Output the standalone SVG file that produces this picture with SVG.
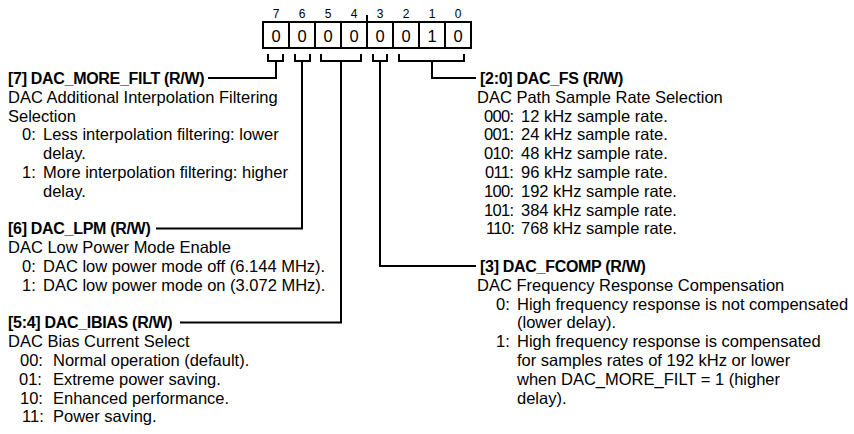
<svg xmlns="http://www.w3.org/2000/svg" width="854" height="434" viewBox="0 0 854 434">
<style>
text{font-family:"Liberation Sans",Arial,sans-serif;fill:#000}
.t{font-size:16.5px}
.c{letter-spacing:-0.7px}
.h{font-size:16px;font-weight:bold;letter-spacing:-0.3px}
.bn{font-size:12px;text-anchor:middle}
.dg{font-size:16.5px;text-anchor:middle}
.ln{fill:none;stroke:#000;stroke-width:2}
.bx{fill:#fff;stroke:#000;stroke-width:2}
</style>
<rect width="854" height="434" fill="#fff"/>
<g id="register">
<rect class="bx" x="263" y="22" width="208" height="26"/>
<path class="ln" d="M289,22V48M315,22V48M341,22V48M367,22V48M393,22V48M419,22V48M445,22V48M367,15V22"/>
<text class="bn" x="276" y="17.5">7</text>
<text class="bn" x="302" y="17.5">6</text>
<text class="bn" x="328" y="17.5">5</text>
<text class="bn" x="354" y="17.5">4</text>
<text class="bn" x="380" y="17.5">3</text>
<text class="bn" x="406" y="17.5">2</text>
<text class="bn" x="432" y="17.5">1</text>
<text class="bn" x="458" y="17.5">0</text>
<text class="dg" x="276" y="41.5">0</text>
<text class="dg" x="302" y="41.5">0</text>
<text class="dg" x="328" y="41.5">0</text>
<text class="dg" x="354" y="41.5">0</text>
<text class="dg" x="380" y="41.5">0</text>
<text class="dg" x="406" y="41.5">0</text>
<text class="dg" x="432" y="41.5">1</text>
<text class="dg" x="458" y="41.5">0</text>
</g>
<g id="connectors">
<path class="ln" d="M268,54V61H283V54M276,61V78H208"/>
<path class="ln" d="M295,54V61H310V54M302,61V228.4H156"/>
<path class="ln" d="M321,54V61H361V54M341,61V322.4H180"/>
<path class="ln" d="M373,54V61H387V54M380,61V266H476"/>
<path class="ln" d="M399,54V61H464V54M432,61V78H476"/>
</g>
<g id="field-7">
<text class="h" x="8" y="84">[7] DAC_MORE_FILT (R/W)</text>
<text class="t" x="8" y="102.8">DAC Additional Interpolation Filtering</text>
<text class="t" x="8" y="121.6">Selection</text>
<text class="t" x="22" y="140.4">0:</text><text class="t" x="43" y="140.4">Less interpolation filtering: lower</text>
<text class="t" x="43" y="159.2">delay.</text>
<text class="t" x="22" y="178">1:</text><text class="t" x="43" y="178">More interpolation filtering: higher</text>
<text class="t" x="43" y="196.8">delay.</text>
</g>
<g id="field-6">
<text class="h" x="8" y="234.4">[6] DAC_LPM (R/W)</text>
<text class="t" x="8" y="253.2">DAC Low Power Mode Enable</text>
<text class="t" x="22" y="272">0:</text><text class="t" x="43" y="272">DAC low power mode off (6.144 MHz).</text>
<text class="t" x="22" y="290.8">1:</text><text class="t" x="43" y="290.8">DAC low power mode on (3.072 MHz).</text>
</g>
<g id="field-5-4">
<text class="h" x="8" y="328.4">[5:4] DAC_IBIAS (R/W)</text>
<text class="t" x="8" y="347.2">DAC Bias Current Select</text>
<text class="t" x="20" y="366">00:</text><text class="t" x="53" y="366">Normal operation (default).</text>
<text class="t" x="19" y="384.8">01:</text><text class="t" x="53" y="384.8">Extreme power saving.</text>
<text class="t" x="20" y="403.6">10:</text><text class="t" x="53" y="403.6">Enhanced performance.</text>
<text class="t" x="22" y="422.4">11:</text><text class="t" x="53" y="422.4">Power saving.</text>
</g>
<g id="field-2-0">
<text class="h" x="480" y="84">[2:0] DAC_FS (R/W)</text>
<text class="t" x="477" y="102.8">DAC Path Sample Rate Selection</text>
<text class="t c" x="484" y="121.6">000:</text><text class="t" x="521" y="121.6">12 kHz sample rate.</text>
<text class="t c" x="484" y="140.4">001:</text><text class="t" x="521" y="140.4">24 kHz sample rate.</text>
<text class="t c" x="484" y="159.2">010:</text><text class="t" x="521" y="159.2">48 kHz sample rate.</text>
<text class="t c" x="485" y="178">011:</text><text class="t" x="521" y="178">96 kHz sample rate.</text>
<text class="t c" x="484" y="196.8">100:</text><text class="t" x="521" y="196.8">192 kHz sample rate.</text>
<text class="t c" x="484" y="215.6">101:</text><text class="t" x="521" y="215.6">384 kHz sample rate.</text>
<text class="t c" x="486" y="234.4">110:</text><text class="t" x="521" y="234.4">768 kHz sample rate.</text>
</g>
<g id="field-3">
<text class="h" x="480" y="272">[3] DAC_FCOMP (R/W)</text>
<text class="t" x="477" y="290.8">DAC Frequency Response Compensation</text>
<text class="t" x="496" y="309.6">0:</text><text class="t" x="517" y="309.6">High frequency response is not compensated</text>
<text class="t" x="517" y="328.4">(lower delay).</text>
<text class="t" x="496" y="347.2">1:</text><text class="t" x="517" y="347.2">High frequency response is compensated</text>
<text class="t" x="517" y="366">for samples rates of 192 kHz or lower</text>
<text class="t" x="517" y="384.8">when DAC_MORE_FILT = 1 (higher</text>
<text class="t" x="517" y="403.6">delay).</text>
</g>
</svg>
